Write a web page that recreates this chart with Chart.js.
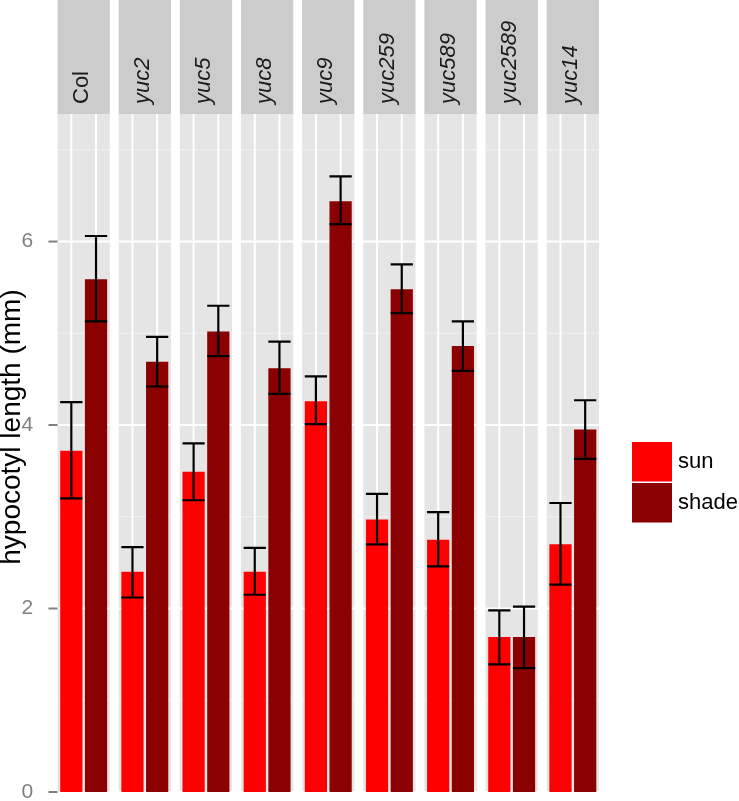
<!DOCTYPE html>
<html>
<head>
<meta charset="utf-8">
<script src="https://cdn.jsdelivr.net/npm/chart.js@4.4.1/dist/chart.umd.min.js"></script>
<style>
  body { margin: 0; background: #fff; }
  #wrap { width: 739px; height: 801px; }
</style>
</head>
<body>
<div id="wrap"><canvas id="hypoChart" width="739" height="801"></canvas></div>
<script>
// genotypes (facets) and measured hypocotyl lengths (mm)
const genotypes = ['Col', 'yuc2', 'yuc5', 'yuc8', 'yuc9', 'yuc259', 'yuc589', 'yuc2589', 'yuc14'];
const sunMean = [3.72, 2.40, 3.49, 2.40, 4.26, 2.97, 2.75, 1.69, 2.70];
const sunLow = [3.20, 2.12, 3.18, 2.15, 4.01, 2.70, 2.46, 1.39, 2.26];
const sunHigh = [4.25, 2.67, 3.80, 2.66, 4.53, 3.25, 3.05, 1.98, 3.15];
const shadeMean = [5.59, 4.69, 5.02, 4.62, 6.44, 5.48, 4.86, 1.69, 3.95];
const shadeLow = [5.13, 4.42, 4.75, 4.34, 6.19, 5.22, 4.59, 1.35, 3.63];
const shadeHigh = [6.06, 4.96, 5.30, 4.91, 6.71, 5.75, 5.13, 2.02, 4.27];
const yTicks = [0, 2, 4, 6];
const yMinorTicks = [1, 3, 5, 7];
const yTitle = 'hypocotyl length (mm)';

const FONT = "'Liberation Sans', Arial, Helvetica, sans-serif";

const facetPlugin = {
    id: 'facets',
    beforeDatasetsDraw(chart) {
        const { ctx, chartArea, scales: { x, y } } = chart;
        const panelW = (chartArea.right - chartArea.left) / genotypes.length * 0.855;
        const sunBars = chart.getDatasetMeta(0).data;
        const shadeBars = chart.getDatasetMeta(1).data;
        ctx.save();
        genotypes.forEach((g, i) => {
            const cx = x.getPixelForValue(i);
            const left = cx - panelW / 2;
            const right = cx + panelW / 2;

            // strip + panel background
            ctx.fillStyle = '#cccccc';
            ctx.fillRect(left, 0, panelW, chartArea.top);
            ctx.fillStyle = '#e5e5e5';
            ctx.fillRect(left, chartArea.top, panelW, chartArea.bottom - chartArea.top);

            // minor grid
            ctx.strokeStyle = '#f2f2f2';
            ctx.lineWidth = 1;
            yMinorTicks.forEach(v => {
                const py = y.getPixelForValue(v);
                ctx.beginPath();
                ctx.moveTo(left, py);
                ctx.lineTo(right, py);
                ctx.stroke();
            });

            // major grid
            ctx.strokeStyle = '#ffffff';
            ctx.lineWidth = 2;
            yTicks.forEach(v => {
                const py = y.getPixelForValue(v);
                ctx.beginPath();
                ctx.moveTo(left, py);
                ctx.lineTo(right, py);
                ctx.stroke();
            });
            [sunBars[i].x, shadeBars[i].x].forEach(px => {
                ctx.beginPath();
                ctx.moveTo(px, chartArea.top);
                ctx.lineTo(px, chartArea.bottom);
                ctx.stroke();
            });

            // strip label
            ctx.save();
            ctx.translate(cx - 2, 104);
            ctx.rotate(-Math.PI / 2);
            ctx.fillStyle = '#1a1a1a';
            ctx.font = (g.startsWith('yuc') ? 'italic ' : '') + '22px ' + FONT;
            ctx.textAlign = 'left';
            ctx.textBaseline = 'middle';
            ctx.fillText(g, 0, 0);
            ctx.restore();
        });
        ctx.restore();
    },
    afterDatasetsDraw(chart) {
        const { ctx, scales: { y } } = chart;
        const errs = [[sunLow, sunHigh], [shadeLow, shadeHigh]];
        ctx.save();
        ctx.strokeStyle = '#000000';
        ctx.lineWidth = 2.2;
        errs.forEach(([lo, hi], d) => {
            chart.getDatasetMeta(d).data.forEach((bar, i) => {
                const yl = y.getPixelForValue(lo[i]);
                const yh = y.getPixelForValue(hi[i]);
                const half = bar.width / 2;
                ctx.beginPath();
                ctx.moveTo(bar.x, yl);
                ctx.lineTo(bar.x, yh);
                ctx.moveTo(bar.x - half, yl);
                ctx.lineTo(bar.x + half, yl);
                ctx.moveTo(bar.x - half, yh);
                ctx.lineTo(bar.x + half, yh);
                ctx.stroke();
            });
        });
        ctx.restore();
    },
    afterDraw(chart) {
        const { ctx, chartArea, scales: { y } } = chart;
        ctx.save();

        // axis tick marks
        ctx.strokeStyle = '#7f7f7f';
        ctx.lineWidth = 2;
        yTicks.forEach(v => {
            const py = y.getPixelForValue(v);
            ctx.beginPath();
            ctx.moveTo(48.5, py);
            ctx.lineTo(chartArea.left + 4.4, py);
            ctx.stroke();
        });

        // y title
        ctx.save();
        ctx.translate(12, 427);
        ctx.rotate(-Math.PI / 2);
        ctx.fillStyle = '#000000';
        ctx.font = '28px ' + FONT;
        ctx.textAlign = 'center';
        ctx.textBaseline = 'middle';
        ctx.fillText(yTitle, 0, 0);
        ctx.restore();

        // legend
        const keyX = 632, keyW = 40, keyH = 39.5;
        let keyY = 442;
        chart.data.datasets.forEach(ds => {
            ctx.fillStyle = ds.backgroundColor;
            ctx.fillRect(keyX, keyY, keyW, keyH);
            ctx.fillStyle = '#000000';
            ctx.font = '22px ' + FONT;
            ctx.textAlign = 'left';
            ctx.textBaseline = 'middle';
            ctx.fillText(ds.label, keyX + keyW + 6, keyY + keyH / 2);
            keyY += keyH + 1.5;
        });
        ctx.restore();
    }
};

const ctx = document.getElementById('hypoChart').getContext('2d');

window.hypoBar = new Chart(ctx, {
    type: 'bar',
    data: {
        labels: genotypes,
        datasets: [{
            label: 'sun',
            backgroundColor: '#ff0000',
            data: sunMean,
            categoryPercentage: 0.808,
            barPercentage: 0.9
        }, {
            label: 'shade',
            backgroundColor: '#8b0000',
            data: shadeMean,
            categoryPercentage: 0.808,
            barPercentage: 0.9
        }]
    },
    options: {
        responsive: false,
        animation: false,
        layout: { padding: { top: 114, right: 135.6, bottom: 9, left: 0 } },
        plugins: {
            legend: { display: false },
            tooltip: { enabled: false }
        },
        scales: {
            x: { display: false },
            y: {
                min: 0,
                max: 7.39,
                grid: { display: false },
                border: { display: false },
                afterBuildTicks: scale => { scale.ticks = yTicks.map(v => ({ value: v })); },
                afterFit: scale => {
                    scale.width = 53.1;
                    scale.paddingTop = 0;
                    scale.paddingBottom = 0;
                },
                ticks: {
                    color: '#7f7f7f',
                    padding: 12,
                    font: { family: FONT, size: 21, lineHeight: 0.8 }
                }
            }
        }
    },
    plugins: [facetPlugin]
});
</script>
</body>
</html>
